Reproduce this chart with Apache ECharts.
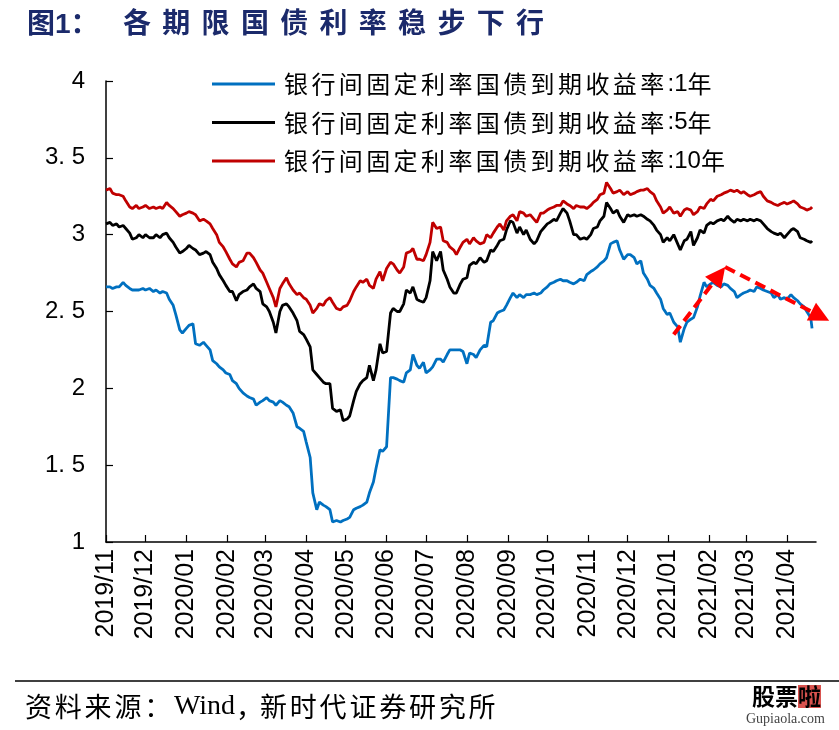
<!DOCTYPE html>
<html><head><meta charset="utf-8">
<script src="https://cdn.jsdelivr.net/npm/echarts@6/dist/echarts.min.js"></script>
<style>html,body{margin:0;padding:0;background:#fff}#c{width:839px;height:730px}</style>
</head><body><div id="c"></div>
<script>
const dates = [
'2019-11-01','2019-11-04','2019-11-06','2019-11-09','2019-11-11','2019-11-14','2019-11-16','2019-11-19','2019-11-21','2019-11-24',
'2019-11-26','2019-11-29','2019-12-01','2019-12-04','2019-12-07','2019-12-09','2019-12-12','2019-12-14','2019-12-17','2019-12-19',
'2019-12-22','2019-12-24','2019-12-27','2019-12-29','2020-01-01','2020-01-03','2020-01-06','2020-01-08','2020-01-11','2020-01-14',
'2020-01-16','2020-01-19','2020-01-21','2020-01-24','2020-01-26','2020-01-29','2020-01-31','2020-02-03','2020-02-05','2020-02-08',
'2020-02-10','2020-02-13','2020-02-16','2020-02-18','2020-02-21','2020-02-23','2020-02-26','2020-02-28','2020-03-02','2020-03-04',
'2020-03-07','2020-03-09','2020-03-12','2020-03-14','2020-03-17','2020-03-19','2020-03-22','2020-03-25','2020-03-27','2020-03-30',
'2020-04-01','2020-04-04','2020-04-06','2020-04-09','2020-04-11','2020-04-14','2020-04-16','2020-04-19','2020-04-21','2020-04-24',
'2020-04-27','2020-04-29','2020-05-02','2020-05-04','2020-05-07','2020-05-09','2020-05-12','2020-05-14','2020-05-17','2020-05-19',
'2020-05-22','2020-05-24','2020-05-27','2020-05-29','2020-06-01','2020-06-04','2020-06-06','2020-06-09','2020-06-11','2020-06-14',
'2020-06-16','2020-06-19','2020-06-21','2020-06-24','2020-06-26','2020-06-29','2020-07-01','2020-07-04','2020-07-06','2020-07-09',
'2020-07-12','2020-07-14','2020-07-17','2020-07-19','2020-07-22','2020-07-24','2020-07-27','2020-07-29','2020-08-01','2020-08-03',
'2020-08-06','2020-08-08','2020-08-11','2020-08-14','2020-08-16','2020-08-19','2020-08-21','2020-08-24','2020-08-26','2020-08-29',
'2020-08-31','2020-09-03','2020-09-05','2020-09-08','2020-09-10','2020-09-13','2020-09-15','2020-09-18','2020-09-21','2020-09-23',
'2020-09-26','2020-09-28','2020-10-01','2020-10-03','2020-10-06','2020-10-08','2020-10-11','2020-10-13','2020-10-16','2020-10-18',
'2020-10-21','2020-10-23','2020-10-26','2020-10-29','2020-10-31','2020-11-03','2020-11-05','2020-11-08','2020-11-10','2020-11-13',
'2020-11-15','2020-11-18','2020-11-20','2020-11-23','2020-11-25','2020-11-28','2020-12-01','2020-12-03','2020-12-06','2020-12-08',
'2020-12-11','2020-12-13','2020-12-16','2020-12-18','2020-12-21','2020-12-23','2020-12-26','2020-12-28','2020-12-31','2021-01-02',
'2021-01-05','2021-01-08','2021-01-10','2021-01-13','2021-01-15','2021-01-18','2021-01-20','2021-01-23','2021-01-25','2021-01-28',
'2021-01-30','2021-02-02','2021-02-04','2021-02-07','2021-02-10','2021-02-12','2021-02-15','2021-02-17','2021-02-20','2021-02-22',
'2021-02-25','2021-02-27','2021-03-02','2021-03-04','2021-03-07','2021-03-09','2021-03-12','2021-03-14','2021-03-17','2021-03-20',
'2021-03-22','2021-03-25','2021-03-27','2021-03-30','2021-04-01','2021-04-04','2021-04-06','2021-04-09','2021-04-11','2021-04-14',
'2021-04-16','2021-04-19','2021-04-20'
];

const yield1Y = [
2.66,2.66,2.65,2.66,2.66,2.69,2.67,2.65,2.64,2.64,
2.64,2.65,2.64,2.65,2.63,2.64,2.62,2.63,2.62,2.58,
2.54,2.48,2.38,2.36,2.39,2.41,2.42,2.29,2.28,2.30,
2.28,2.25,2.18,2.16,2.14,2.12,2.10,2.09,2.05,2.03,
2.00,1.97,1.95,1.94,1.93,1.89,1.91,1.92,1.94,1.92,
1.91,1.89,1.92,1.91,1.89,1.88,1.84,1.75,1.74,1.72,
1.65,1.55,1.32,1.21,1.26,1.24,1.23,1.21,1.13,1.14,
1.13,1.14,1.15,1.16,1.21,1.22,1.23,1.24,1.26,1.32,
1.39,1.48,1.60,1.59,1.62,2.07,2.07,2.06,2.05,2.04,
2.10,2.12,2.22,2.15,2.13,2.17,2.10,2.12,2.14,2.19,
2.19,2.17,2.22,2.25,2.25,2.25,2.25,2.24,2.16,2.23,
2.22,2.20,2.25,2.28,2.27,2.43,2.44,2.49,2.50,2.51,
2.54,2.59,2.62,2.59,2.61,2.59,2.61,2.61,2.62,2.61,
2.62,2.64,2.66,2.68,2.69,2.70,2.71,2.70,2.70,2.69,
2.68,2.69,2.71,2.70,2.74,2.76,2.77,2.79,2.81,2.83,
2.85,2.94,2.95,2.96,2.90,2.84,2.87,2.87,2.85,2.81,
2.83,2.75,2.71,2.67,2.65,2.62,2.58,2.52,2.48,2.49,
2.43,2.40,2.30,2.39,2.43,2.45,2.46,2.53,2.60,2.69,
2.66,2.68,2.69,2.67,2.66,2.68,2.67,2.65,2.63,2.59,
2.61,2.62,2.63,2.64,2.63,2.66,2.65,2.64,2.63,2.62,
2.59,2.61,2.58,2.59,2.58,2.61,2.59,2.57,2.55,2.53,
2.50,2.46,2.39
];

const yield5Y = [
3.07,3.08,3.06,3.07,3.05,3.06,3.04,3.01,2.97,2.98,
3.00,2.98,3.00,2.98,2.98,3.00,2.98,3.00,3.01,2.98,
2.95,2.92,2.88,2.89,2.91,2.93,2.91,2.90,2.87,2.88,
2.89,2.87,2.82,2.78,2.74,2.70,2.67,2.63,2.63,2.57,
2.61,2.63,2.64,2.66,2.68,2.65,2.63,2.55,2.53,2.50,
2.43,2.36,2.50,2.54,2.55,2.53,2.49,2.44,2.37,2.35,
2.32,2.27,2.12,2.09,2.07,2.04,2.03,2.03,1.87,1.85,
1.86,1.79,1.80,1.82,1.92,1.98,2.03,2.05,2.07,2.15,
2.05,2.12,2.29,2.23,2.24,2.49,2.52,2.50,2.50,2.55,
2.64,2.62,2.66,2.58,2.57,2.56,2.59,2.70,2.89,2.83,
2.89,2.77,2.71,2.66,2.62,2.62,2.68,2.71,2.72,2.80,
2.82,2.81,2.85,2.82,2.83,2.90,2.89,2.93,2.96,2.97,
3.03,3.09,3.08,3.01,3.05,3.00,3.03,2.97,2.94,2.96,
3.02,3.04,3.07,3.08,3.10,3.09,3.14,3.17,3.14,3.09,
3.00,3.00,2.97,2.98,2.97,3.00,3.04,3.05,3.09,3.12,
3.21,3.17,3.14,3.16,3.12,3.08,3.13,3.12,3.13,3.12,
3.13,3.12,3.10,3.09,3.06,3.03,3.00,2.95,2.98,2.96,
3.00,2.94,2.90,2.96,2.97,3.02,2.93,2.98,3.03,3.01,
3.06,3.08,3.07,3.09,3.10,3.09,3.12,3.10,3.08,3.10,
3.09,3.10,3.09,3.10,3.09,3.10,3.09,3.07,3.04,3.02,
3.01,3.00,3.01,2.98,3.00,3.03,3.04,3.02,2.98,2.97,
2.96,2.95,2.96
];

const yield10Y = [
3.29,3.30,3.27,3.26,3.26,3.25,3.22,3.18,3.17,3.19,
3.17,3.18,3.19,3.17,3.18,3.17,3.18,3.17,3.21,3.19,
3.17,3.15,3.12,3.13,3.14,3.15,3.14,3.13,3.09,3.10,
3.09,3.07,3.04,3.00,2.95,2.92,2.89,2.84,2.81,2.79,
2.82,2.83,2.88,2.88,2.85,2.82,2.77,2.75,2.69,2.65,
2.59,2.53,2.65,2.68,2.72,2.68,2.64,2.61,2.62,2.59,
2.58,2.54,2.49,2.52,2.55,2.54,2.57,2.59,2.56,2.52,
2.51,2.53,2.54,2.57,2.63,2.66,2.70,2.69,2.71,2.67,
2.65,2.71,2.76,2.70,2.78,2.82,2.81,2.77,2.75,2.79,
2.88,2.89,2.91,2.84,2.84,2.83,2.87,2.95,3.08,3.04,
3.05,2.96,2.95,2.92,2.90,2.87,2.92,2.95,2.97,2.94,
2.98,2.96,2.94,2.95,3.00,2.98,3.01,3.05,3.07,3.03,
3.09,3.12,3.13,3.09,3.15,3.14,3.12,3.13,3.10,3.08,
3.14,3.14,3.16,3.17,3.18,3.19,3.19,3.22,3.20,3.19,
3.17,3.19,3.18,3.18,3.17,3.19,3.21,3.23,3.26,3.27,
3.34,3.30,3.27,3.28,3.29,3.26,3.28,3.26,3.27,3.28,
3.29,3.29,3.30,3.28,3.26,3.22,3.18,3.14,3.16,3.18,
3.14,3.15,3.12,3.16,3.17,3.16,3.13,3.15,3.18,3.17,
3.20,3.23,3.22,3.25,3.26,3.27,3.28,3.29,3.28,3.29,
3.27,3.28,3.26,3.25,3.26,3.27,3.28,3.25,3.22,3.21,
3.20,3.19,3.20,3.21,3.20,3.21,3.22,3.20,3.18,3.17,
3.16,3.17,3.18
];

const seriesNames = ['银行间固定利率国债到期收益率:1年','银行间固定利率国债到期收益率:5年','银行间固定利率国债到期收益率:10年'];
const seriesColors = ['#0070C0','#000000','#C00000'];
const xTickLabels = ['2019/11','2019/12','2020/01','2020/02','2020/03','2020/04','2020/05','2020/06','2020/07','2020/08','2020/09','2020/10','2020/11','2020/12','2021/01','2021/02','2021/03','2021/04'];
const yTickLabels = ['1','1. 5','2','2. 5','3','3. 5','4'];
const xRange = ['2019-11-01','2021-04-23'];
const arrowPath = [['2021-01-05',2.35],['2021-02-13',2.79],['2021-05-03',2.44]];
const titleHead = '图1：';
const titleBody = '各期限国债利率稳步下行';
const sourceParts = ['资料来源：','Wind','，','新时代证券研究所'];

function ts(s){ const p = s.split('-').map(Number); return new Date(p[0], p[1]-1, p[2]).getTime(); }
const xTickVals = xTickLabels.map(l => { const p = l.split('/').map(Number); return new Date(p[0], p[1]-1, 1).getTime(); });
function pairs(vals){ return dates.map((d,i) => [ts(d), vals[i]]); }
function tok(str, st){ return Array.from(str).map(ch => '{' + st + '|' + ch + '}').join(''); }
function legendTok(str){ return Array.from(str).map(ch => (/[\u4e00-\u9fff]/.test(ch) ? '{c|' : '{a|') + ch + '}').join(''); }

const SANS = "'Liberation Sans','Noto Sans CJK SC',sans-serif";
const CJK = "'Noto Sans CJK SC',sans-serif";
const chart = echarts.init(document.getElementById('c'), null, {renderer:'canvas'});

const option = {
  animation: false,
  backgroundColor: '#fff',
  title: {
    text: '{h|' + titleHead + '}' + tok(titleBody, 'c'),
    left: 27, top: 8, padding: 0,
    textStyle: {
      rich: {
        h: {fontSize: 28, fontWeight: 'bold', color: '#1B2A6B', width: 96, fontFamily: SANS, lineHeight: 34},
        c: {fontSize: 28, fontWeight: 'bold', color: '#1B2A6B', width: 39.3, fontFamily: SANS, lineHeight: 34}
      }
    }
  },
  legend: {
    orient: 'vertical', left: 212, top: 71, padding: 0,
    itemWidth: 63, itemHeight: 3, itemGap: 12.5, icon: 'rect',
    data: seriesNames,
    formatter: name => legendTok(name),
    textStyle: {color: '#000', lineHeight: 26, padding: [0,0,0,4],
      rich: {
        c: {fontSize: 24, fontFamily: CJK, color: '#000', width: 27.4, lineHeight: 26},
        a: {fontSize: 24, fontFamily: 'Liberation Sans', color: '#000', lineHeight: 26}
      }}
  },
  grid: {left: 106, right: 23, top: 81, bottom: 188, containLabel: false},
  xAxis: {
    type: 'value', min: ts(xRange[0]), max: ts(xRange[1]),
    axisLine: {show: true, onZero: false, lineStyle: {color: '#000', width: 1.5}},
    axisTick: {show: true, inside: true, length: 7, lineStyle: {color: '#000', width: 1.2}, customValues: xTickVals},
    axisLabel: {
      show: true, rotate: 90, margin: 7, fontSize: 25, color: '#000', fontFamily: 'Liberation Sans',
      customValues: xTickVals,
      formatter: v => { const i = xTickVals.indexOf(v); return i >= 0 ? xTickLabels[i] : ''; }
    },
    splitLine: {show: false}
  },
  yAxis: {
    type: 'value', min: 1, max: 4, interval: 0.5,
    axisLine: {show: true, lineStyle: {color: '#000', width: 1.5}},
    axisTick: {show: true, inside: true, length: 7, lineStyle: {color: '#000', width: 1.2}},
    axisLabel: {fontSize: 24, color: '#000', margin: 21, fontFamily: 'Liberation Sans',
      formatter: v => yTickLabels[Math.round((v - 1) * 2)]},
    splitLine: {show: false}
  },
  series: [
    {name: seriesNames[0], type: 'line', symbol: 'none', data: pairs(yield1Y), lineStyle: {width: 2.8, color: seriesColors[0]}, itemStyle: {color: seriesColors[0]}, z: 3},
    {name: seriesNames[1], type: 'line', symbol: 'none', data: pairs(yield5Y), lineStyle: {width: 2.8, color: seriesColors[1]}, itemStyle: {color: seriesColors[1]}, z: 2},
    {name: seriesNames[2], type: 'line', symbol: 'none', data: pairs(yield10Y), lineStyle: {width: 2.8, color: seriesColors[2]}, itemStyle: {color: seriesColors[2]}, z: 2}
  ]
};
chart.setOption(option);

function buildGraphics(){
  const els = [];
  els.push({type: 'line', shape: {x1: 15, y1: 681, x2: 839, y2: 681}, style: {stroke: '#000', lineWidth: 1.5}});
  const srcText = tok(sourceParts[0], 'c') + '{w|' + sourceParts[1] + '}' + '{p|' + sourceParts[2] + '}' + tok(sourceParts[3], 'c');
  els.push({type: 'text', left: 25, top: 693, style: {text: srcText, rich: {
    c: {fontSize: 27, fontFamily: CJK, color: '#111', width: 29.8, lineHeight: 32},
    w: {fontSize: 28, fontFamily: "'Liberation Serif',serif", color: '#111', width: 62, lineHeight: 32},
    p: {fontSize: 27, fontFamily: CJK, color: '#111', width: 24, lineHeight: 32}
  }}});
  els.push({type: 'text', left: 752, top: 685, style: {text: '{b|股票}{r|啦}', rich: {
    b: {fontSize: 23, fontWeight: 'bold', color: '#2C4F8F', fontFamily: CJK},
    r: {fontSize: 23, fontWeight: 'bold', color: '#fff', backgroundColor: '#D9534F', fontFamily: CJK}
  }}});
  els.push({type: 'text', left: 746, top: 712, style: {text: 'Gupiaola.com', fontSize: 14, fontFamily: "'Liberation Serif',serif", fill: '#444'}});
  const P = arrowPath.map(p => chart.convertToPixel({gridIndex: 0}, [ts(p[0]), p[1]]));
  for (let i = 0; i < P.length - 1; i++) {
    const a = P[i], b = P[i+1];
    const dx = b[0]-a[0], dy = b[1]-a[1], L = Math.hypot(dx, dy), ux = dx/L, uy = dy/L;
    const head = 20, half = 10;
    const bx = b[0]-ux*head, by = b[1]-uy*head;
    const end = i === 0 ? b : [bx, by];
    els.push({type: 'line', z: 100, shape: {x1: a[0], y1: a[1], x2: end[0], y2: end[1]}, style: {stroke: '#FF0000', lineWidth: 4, lineDash: [11, 6]}});
    els.push({type: 'polygon', z: 101, shape: {points: [[b[0], b[1]], [bx - uy*half, by + ux*half], [bx + uy*half, by - ux*half]]}, style: {fill: '#FF0000'}});
  }
  return els;
}
chart.setOption({graphic: buildGraphics()});
</script>
</body></html>
